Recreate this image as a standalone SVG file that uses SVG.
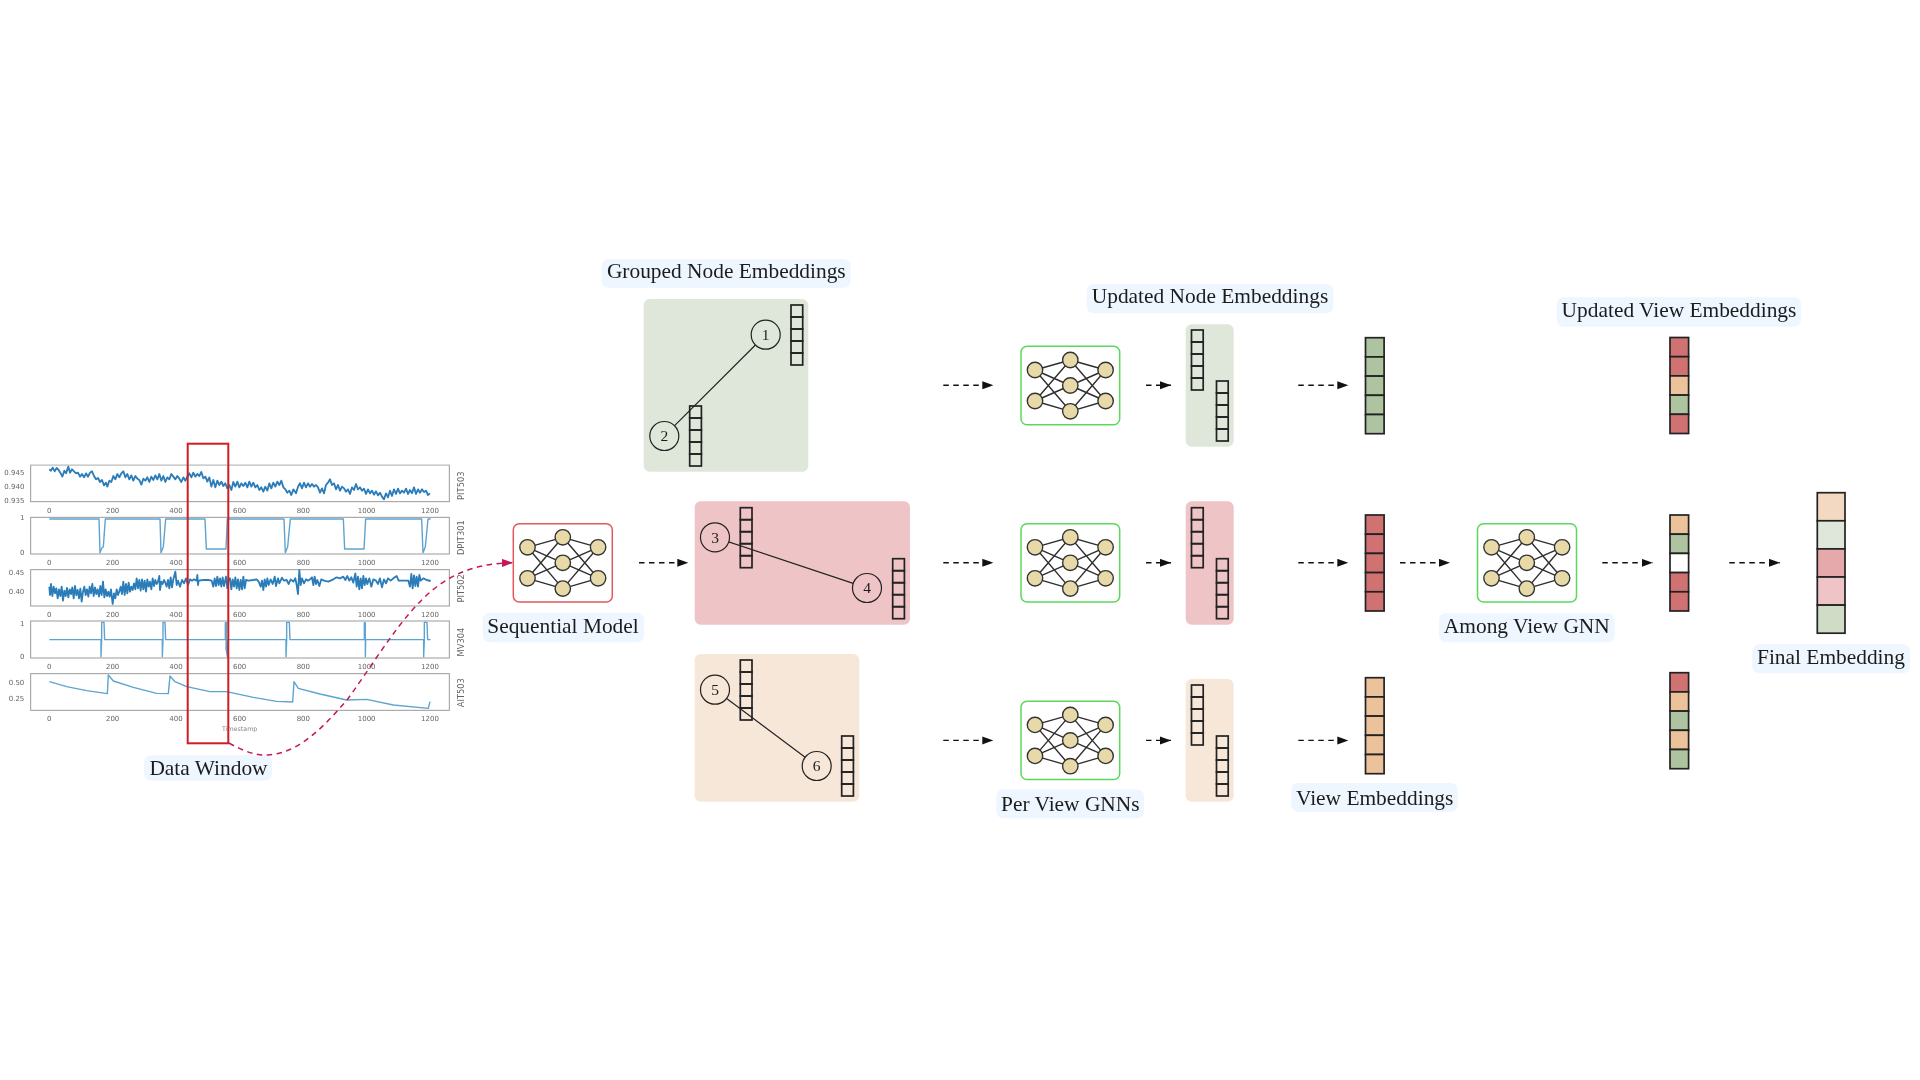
<svg xmlns="http://www.w3.org/2000/svg" xmlns:xlink="http://www.w3.org/1999/xlink" width="1920" height="1080" viewBox="0 0 1920 1080">
<style>
text{font-family:"Liberation Serif","Times New Roman",serif;fill:#1c1c1c}
.lab{font-size:21.4px;text-anchor:middle}
.pill{fill:#eef6ff}
.num{font-size:15.5px;text-anchor:middle}
.circ{fill:none;stroke:#222;stroke-width:1.2}
.edge{stroke:#222;stroke-width:1.2;fill:none}
.arr{stroke:#111;stroke-width:1.4;stroke-dasharray:5.5 4.5;fill:none;marker-end:url(#ah)}
.cur{stroke:#c5185a;stroke-width:1.5;stroke-dasharray:5.5 4.5;fill:none;marker-end:url(#ahr)}
.nnb{fill:#fff;stroke-width:1.5}
.g{stroke:#5cd85c}
.rr{stroke:#e0595c}
.pg{fill:#dfe7db}.pr{fill:#efc4c6}.po{fill:#f7e7d9}
.vc{fill:none;stroke:#222;stroke-width:1.7}
.cc{stroke:#222;stroke-width:1.7}
.cg{fill:#aec3a0}.cr{fill:#d07272}.co{fill:#ebc29a}.cw{fill:#fff}
.f1{fill:#f4d9c2}.f2{fill:#dfe7db}.f3{fill:#e5a9ab}.f4{fill:#efc4c6}.f5{fill:#d1dcc7}
.nl{stroke:#2e2e2e;stroke-width:1.4;fill:none}
.nc{fill:#e8d9a8;stroke:#333;stroke-width:1.4}
.spine{fill:none;stroke:#9a9a9a;stroke-width:3}
.tk text,text.tk{font-family:"DejaVu Sans",sans-serif;font-size:21px;fill:#666}
.tx text{text-anchor:middle}
.ty text{text-anchor:end}
.yl{font-family:"DejaVu Sans",sans-serif;font-size:25px;fill:#666;text-anchor:middle}
.s1{fill:none;stroke:#2b7db8;stroke-width:5.5;stroke-linejoin:round}
.s2{fill:none;stroke:#5fa3cf;stroke-width:4.2;stroke-linejoin:round}
</style>
<defs>
<filter id="soft" x="-2%" y="-2%" width="104%" height="104%"><feGaussianBlur stdDeviation="0.5"/></filter>
<marker id="ah" markerUnits="userSpaceOnUse" markerWidth="12" markerHeight="10" refX="11" refY="4" orient="auto"><path d="M0,0L11,4L0,8Z" fill="#111"/></marker>
<marker id="ahr" markerUnits="userSpaceOnUse" markerWidth="12" markerHeight="10" refX="11" refY="4" orient="auto"><path d="M0,0L11,4L0,8Z" fill="#c5185a"/></marker>
<g id="net">
<path class="nl" d="M-35.3,-15.5L0,-25.5M-35.3,-15.5L0,0M-35.3,-15.5L0,25.8M-35.3,15.5L0,-25.5M-35.3,15.5L0,0M-35.3,15.5L0,25.8M35.3,-15.5L0,-25.5M35.3,-15.5L0,0M35.3,-15.5L0,25.8M35.3,15.5L0,-25.5M35.3,15.5L0,0M35.3,15.5L0,25.8"/>
<circle class="nc" cx="-35.3" cy="-15.5" r="7.7"/><circle class="nc" cx="-35.3" cy="15.5" r="7.7"/>
<circle class="nc" cx="0" cy="-25.5" r="7.7"/><circle class="nc" cx="0" cy="0" r="7.7"/><circle class="nc" cx="0" cy="25.8" r="7.7"/>
<circle class="nc" cx="35.3" cy="-15.5" r="7.7"/><circle class="nc" cx="35.3" cy="15.5" r="7.7"/>
</g>
<g id="vec">
<rect class="vc" width="11.7" height="12"/><rect class="vc" y="12" width="11.7" height="12"/><rect class="vc" y="24" width="11.7" height="12"/><rect class="vc" y="36" width="11.7" height="12"/><rect class="vc" y="48" width="11.7" height="12"/>
</g>
<rect id="cell" class="cc" width="18.6" height="19.2"/>
<rect id="fcell" class="cc" width="27.7" height="28.1"/>
</defs>

<g id="data-window-plot" transform="translate(0,430) scale(0.33333)">
<g filter="url(#soft)">
<rect class="spine" x="92" y="105" width="1256" height="110"/>
<rect class="spine" x="92" y="262" width="1256" height="110"/>
<rect class="spine" x="92" y="419" width="1256" height="109"/>
<rect class="spine" x="92" y="573" width="1256" height="111"/>
<rect class="spine" x="92" y="731" width="1256" height="110"/>
<polyline class="s1" points="148,118 153,122 158,113 164,124 170,114 176,120 181,128 187,140 193,122 198,130 205,110 210,128 216,118 222,124 228,130 234,128 240,140 246,132 252,142 258,130 264,140 270,128 276,124 282,138 288,148 294,144 300,156 306,150 312,166 318,158 322,170 328,152 334,156 340,138 346,148 352,132 358,142 364,130 370,124 376,142 382,132 388,148 394,136 400,152 406,138 412,146 418,150 424,164 430,146 436,152 442,142 448,156 454,140 460,150 466,136 472,148 478,132 484,152 490,138 496,156 502,142 508,148 514,132 520,140 526,148 532,138 538,146 544,156 550,142 556,152 562,140 568,130 574,142 580,128 586,140 592,132 598,138 604,126 610,145 616,140 622,155 628,142 634,170 640,150 646,172 652,152 658,165 664,155 670,168 676,160 682,175 688,165 694,180 700,156 706,170 712,155 718,172 724,160 730,168 736,158 742,172 748,155 754,170 760,158 766,172 772,165 778,180 784,172 790,185 796,170 802,182 808,160 814,175 820,158 826,170 832,155 838,165 844,152 850,172 856,178 862,188 868,182 874,195 880,178 888,190 894,170 900,160 906,175 912,158 918,172 924,160 930,170 936,162 942,170 948,165 954,172 960,188 966,175 972,190 978,165 984,158 990,148 996,165 1002,160 1008,178 1014,165 1020,182 1026,170 1032,175 1038,185 1044,178 1050,192 1056,172 1062,180 1068,162 1074,178 1080,172 1086,182 1092,176 1098,192 1104,178 1110,190 1116,182 1122,194 1128,184 1134,196 1140,188 1146,200 1152,208 1158,190 1164,202 1170,182 1176,198 1182,178 1188,192 1194,176 1200,190 1206,182 1212,188 1218,176 1224,192 1230,180 1236,190 1242,172 1248,192 1254,178 1260,188 1266,178 1272,186 1278,182 1284,195 1290,190"/>
<polyline class="s2" points="148,267 297,267 300,368 305,355 310,350 316,267 480,267 483,368 490,350 497,267 615,267 619,357 678,357 682,267 852,267 856,368 863,350 871,267 1030,267 1034,357 1092,357 1097,267 1265,267 1269,368 1276,350 1284,267 1292,267"/>
<polyline class="s1" points="148,470 150,495 153,462 157,498 161,470 165,490 169,475 173,505 177,478 181,498 185,470 189,512 193,482 197,498 201,474 205,502 209,478 213,492 217,472 221,505 225,468 229,495 233,480 237,505 241,476 245,515 249,485 253,470 257,495 261,478 265,500 269,470 273,490 277,462 281,498 285,472 289,492 293,478 297,500 301,468 305,495 309,455 313,502 317,478 321,498 325,485 329,500 333,478 338,522 342,490 346,505 350,478 354,495 358,484 362,470 366,492 370,455 374,495 378,462 382,490 386,458 390,485 394,470 398,480 402,460 406,478 410,445 414,475 418,450 422,482 426,448 430,478 434,452 438,485 442,448 446,470 450,455 454,478 458,445 462,468 466,450 470,462 474,455 478,438 480,480 484,455 488,462 492,450 496,458 500,470 504,450 508,475 512,442 516,472 520,448 526,425 530,465 534,452 540,470 546,450 552,460 558,445 564,465 570,448 576,452 582,448 590,452 592,435 594,465 596,452 610,450 625,450 635,452 640,470 644,445 648,468 652,440 656,465 660,445 664,470 668,442 672,468 678,440 682,475 686,445 690,445 694,478 698,448 702,470 706,442 710,475 714,448 718,480 722,450 726,478 730,440 734,475 738,450 745,452 760,450 770,448 776,455 782,470 786,452 790,480 794,448 798,470 802,445 806,465 812,448 818,462 824,440 828,468 834,445 838,460 846,443 852,452 860,450 866,462 872,448 880,455 886,445 890,465 894,492 898,420 902,465 906,445 912,460 918,448 924,452 930,448 936,442 940,465 944,440 948,462 952,450 958,468 964,448 972,452 985,455 1000,448 1010,442 1020,445 1030,440 1036,450 1042,438 1048,452 1054,442 1060,458 1066,430 1070,470 1074,440 1078,478 1082,445 1086,475 1090,438 1094,465 1098,445 1102,462 1108,445 1114,470 1120,448 1128,452 1134,462 1140,445 1146,472 1152,448 1158,460 1164,445 1172,452 1180,445 1190,438 1196,452 1204,452 1225,452 1230,470 1234,432 1238,475 1242,436 1246,468 1250,440 1254,470 1258,435 1262,452 1270,445 1280,450 1292,453"/>
<polyline class="s2" points="148,629 303,629 303,680 305,629 305,577 312,577 314,629 487,629 487,680 489,629 489,577 495,577 497,629 676,629 676,578 680,578 678,655 682,680 682,629 858,629 858,680 860,629 860,577 868,577 870,629 1093,629 1093,578 1096,578 1096,680 1097,629 1271,629 1271,680 1273,629 1273,577 1281,577 1283,629 1292,629"/>
<polyline class="s2" points="148,755 200,770 260,782 322,791 325,735 340,753 400,772 470,790 505,791 510,738 525,755 560,770 630,785 680,785 760,802 830,814 878,816 882,755 895,775 960,792 1040,810 1100,808 1180,825 1285,835 1290,815"/>
<g class="tk tx">
<text x="148" y="248">0</text><text x="338" y="248">200</text><text x="528" y="248">400</text><text x="719" y="248">600</text><text x="910" y="248">800</text><text x="1100" y="248">1000</text><text x="1290" y="248">1200</text>
<text x="148" y="404">0</text><text x="338" y="404">200</text><text x="528" y="404">400</text><text x="719" y="404">600</text><text x="910" y="404">800</text><text x="1100" y="404">1000</text><text x="1290" y="404">1200</text>
<text x="148" y="562">0</text><text x="338" y="562">200</text><text x="528" y="562">400</text><text x="719" y="562">600</text><text x="910" y="562">800</text><text x="1100" y="562">1000</text><text x="1290" y="562">1200</text>
<text x="148" y="718">0</text><text x="338" y="718">200</text><text x="528" y="718">400</text><text x="719" y="718">600</text><text x="910" y="718">800</text><text x="1100" y="718">1000</text><text x="1290" y="718">1200</text>
<text x="148" y="873">0</text><text x="338" y="873">200</text><text x="528" y="873">400</text><text x="719" y="873">600</text><text x="910" y="873">800</text><text x="1100" y="873">1000</text><text x="1290" y="873">1200</text>
<text x="719" y="904" style="font-size:19px;fill:#888">Timestamp</text>
</g>
<g class="tk ty">
<text x="73" y="135">0.945</text><text x="73" y="176">0.940</text><text x="73" y="219">0.935</text>
<text x="73" y="269">1</text><text x="73" y="375">0</text>
<text x="73" y="435">0.45</text><text x="73" y="492">0.40</text>
<text x="73" y="587">1</text><text x="73" y="688">0</text>
<text x="73" y="765">0.50</text><text x="73" y="812">0.25</text>
</g>
<text class="yl" transform="translate(1392,167) rotate(-90)">PIT503</text>
<text class="yl" transform="translate(1392,323) rotate(-90)">DPIT301</text>
<text class="yl" transform="translate(1392,475) rotate(-90)">PIT502</text>
<text class="yl" transform="translate(1392,636) rotate(-90)">MV304</text>
<text class="yl" transform="translate(1392,788) rotate(-90)">AIT503</text>
</g>
</g>

<g id="data-window">
<rect x="187.7" y="443.7" width="40.6" height="299.6" fill="none" stroke="#cc1f24" stroke-width="2"/>
<rect class="pill" x="144" y="755.3" width="128" height="25.5" rx="7"/>
<text class="lab" x="208.5" y="774.5">Data Window</text>
</g>

<g id="sequential-model">
<rect class="nnb rr" x="513.3" y="523.7" width="99" height="78.3" rx="6"/>
<use xlink:href="#net" href="#net" x="562.8" y="562.8"/>
<rect class="pill" x="482.7" y="612.7" width="161.3" height="29.6" rx="7"/>
<text class="lab" x="563" y="632.5">Sequential Model</text>
</g>

<g id="grouped-green">
<rect class="pill" x="601.7" y="259" width="249" height="28.7" rx="7"/>
<text class="lab" x="726.3" y="278">Grouped Node Embeddings</text>
<rect class="pg" x="643.7" y="299" width="164.6" height="172.7" rx="6"/>
<use xlink:href="#vec" href="#vec" x="791" y="305"/>
<use xlink:href="#vec" href="#vec" x="689.7" y="406"/>
</g>
<g id="node-1"><circle class="circ" cx="765.7" cy="334.7" r="14.5"/><text class="num" x="765.7" y="340">1</text></g>
<g id="node-2"><circle class="circ" cx="664.3" cy="436" r="14.5"/><text class="num" x="664.3" y="441.3">2</text></g>

<g id="grouped-red">
<rect class="pr" x="694.7" y="501.3" width="215.3" height="123.4" rx="6"/>
<use xlink:href="#vec" href="#vec" x="740.3" y="507.7"/>
<use xlink:href="#vec" href="#vec" x="892.7" y="558.7"/>
</g>
<g id="node-3"><circle class="circ" cx="715" cy="537.3" r="14.5"/><text class="num" x="715" y="542.6">3</text></g>
<g id="node-4"><circle class="circ" cx="867" cy="588" r="14.5"/><text class="num" x="867" y="593.3">4</text></g>

<g id="grouped-orange">
<rect class="po" x="694.7" y="654" width="164.6" height="147.7" rx="6"/>
<use xlink:href="#vec" href="#vec" x="740.3" y="660"/>
<use xlink:href="#vec" href="#vec" x="841.7" y="736"/>
</g>
<g id="node-5"><circle class="circ" cx="715" cy="689.7" r="14.5"/><text class="num" x="715" y="695">5</text></g>
<g id="node-6"><circle class="circ" cx="816.7" cy="766" r="14.5"/><text class="num" x="816.7" y="771.3">6</text></g>

<g id="gnn-1"><rect class="nnb g" x="1021" y="346.3" width="98.7" height="78.4" rx="6"/><use xlink:href="#net" href="#net" x="1070.3" y="385.5"/></g>
<g id="gnn-2"><rect class="nnb g" x="1021" y="523.7" width="98.7" height="78.3" rx="6"/><use xlink:href="#net" href="#net" x="1070.3" y="562.8"/></g>
<g id="gnn-3"><rect class="nnb g" x="1021" y="701.2" width="98.7" height="78.4" rx="6"/><use xlink:href="#net" href="#net" x="1070.3" y="740.4"/>
<rect class="pill" x="996.4" y="789.3" width="147.6" height="29" rx="7"/>
<text class="lab" x="1070.3" y="811">Per View GNNs</text></g>

<g id="updated-1">
<rect class="pill" x="1086.7" y="284" width="246.6" height="29.3" rx="7"/>
<text class="lab" x="1210" y="303">Updated Node Embeddings</text>
<rect class="pg" x="1185.7" y="324.3" width="48" height="122.4" rx="6"/>
<use xlink:href="#vec" href="#vec" x="1191.5" y="330"/><use xlink:href="#vec" href="#vec" x="1216.5" y="381"/>
</g>
<g id="updated-2">
<rect class="pr" x="1185.7" y="501.3" width="48" height="123.4" rx="6"/>
<use xlink:href="#vec" href="#vec" x="1191.5" y="507.7"/><use xlink:href="#vec" href="#vec" x="1216.5" y="558.7"/>
</g>
<g id="updated-3">
<rect class="po" x="1185.7" y="679" width="48" height="122.7" rx="6"/>
<use xlink:href="#vec" href="#vec" x="1191.5" y="685"/><use xlink:href="#vec" href="#vec" x="1216.5" y="736"/>
</g>

<g id="view-1" transform="translate(1365.5,337.7)"><use xlink:href="#cell" href="#cell" class="cg"/><use xlink:href="#cell" href="#cell" y="19.2" class="cg"/><use xlink:href="#cell" href="#cell" y="38.4" class="cg"/><use xlink:href="#cell" href="#cell" y="57.6" class="cg"/><use xlink:href="#cell" href="#cell" y="76.8" class="cg"/></g>
<g id="view-2" transform="translate(1365.5,515)"><use xlink:href="#cell" href="#cell" class="cr"/><use xlink:href="#cell" href="#cell" y="19.2" class="cr"/><use xlink:href="#cell" href="#cell" y="38.4" class="cr"/><use xlink:href="#cell" href="#cell" y="57.6" class="cr"/><use xlink:href="#cell" href="#cell" y="76.8" class="cr"/></g>
<g id="view-3"><g transform="translate(1365.5,677.7)"><use xlink:href="#cell" href="#cell" class="co"/><use xlink:href="#cell" href="#cell" y="19.2" class="co"/><use xlink:href="#cell" href="#cell" y="38.4" class="co"/><use xlink:href="#cell" href="#cell" y="57.6" class="co"/><use xlink:href="#cell" href="#cell" y="76.8" class="co"/></g>
<rect class="pill" x="1291.4" y="783" width="166.5" height="29" rx="7"/>
<text class="lab" x="1374.7" y="804.5">View Embeddings</text></g>

<g id="among-view-gnn"><rect class="nnb g" x="1477.5" y="523.7" width="99" height="78.3" rx="6"/><use xlink:href="#net" href="#net" x="1526.8" y="562.8"/>
<rect class="pill" x="1439" y="613.3" width="175.7" height="29" rx="7"/>
<text class="lab" x="1526.8" y="632.5">Among View GNN</text></g>

<g id="updated-view-1">
<rect class="pill" x="1556.7" y="297.3" width="244.3" height="29.4" rx="7"/>
<text class="lab" x="1679" y="316.7">Updated View Embeddings</text>
<g transform="translate(1670,337.5)"><use xlink:href="#cell" href="#cell" class="cr"/><use xlink:href="#cell" href="#cell" y="19.2" class="cr"/><use xlink:href="#cell" href="#cell" y="38.4" class="co"/><use xlink:href="#cell" href="#cell" y="57.6" class="cg"/><use xlink:href="#cell" href="#cell" y="76.8" class="cr"/></g>
</g>
<g id="updated-view-2" transform="translate(1670,515)"><use xlink:href="#cell" href="#cell" class="co"/><use xlink:href="#cell" href="#cell" y="19.2" class="cg"/><use xlink:href="#cell" href="#cell" y="38.4" class="cw"/><use xlink:href="#cell" href="#cell" y="57.6" class="cr"/><use xlink:href="#cell" href="#cell" y="76.8" class="cr"/></g>
<g id="updated-view-3" transform="translate(1670,672.7)"><use xlink:href="#cell" href="#cell" class="cr"/><use xlink:href="#cell" href="#cell" y="19.2" class="co"/><use xlink:href="#cell" href="#cell" y="38.4" class="cg"/><use xlink:href="#cell" href="#cell" y="57.6" class="co"/><use xlink:href="#cell" href="#cell" y="76.8" class="cg"/></g>

<g id="final-embedding">
<g transform="translate(1817.3,492.7)"><use xlink:href="#fcell" href="#fcell" class="f1"/><use xlink:href="#fcell" href="#fcell" y="28.1" class="f2"/><use xlink:href="#fcell" href="#fcell" y="56.2" class="f3"/><use xlink:href="#fcell" href="#fcell" y="84.3" class="f4"/><use xlink:href="#fcell" href="#fcell" y="112.4" class="f5"/></g>
<rect class="pill" x="1752.3" y="644.3" width="157.7" height="29" rx="7"/>
<text class="lab" x="1831" y="663.5">Final Embedding</text>
</g>

<g id="connectors">
<path class="edge" d="M674.6,425.7L755.4,345"/>
<path class="edge" d="M728.8,541.9L853.2,583.4"/>
<path class="edge" d="M726.6,698.4L805.1,757.3"/>
<path class="cur" d="M229,743C245,752 258,756 268,755C300,753 325,725 347,700C380,655 410,600 450,578C470,567 490,563 513,562.8"/>
<path class="arr" d="M639,562.8H688.3"/>
<path class="arr" d="M943.3,385.3H993.3"/>
<path class="arr" d="M943.3,562.8H993.3"/>
<path class="arr" d="M943.3,740.4H993.3"/>
<path class="arr" d="M1146,385.3H1171"/>
<path class="arr" d="M1146,562.8H1171"/>
<path class="arr" d="M1146,740.4H1171"/>
<path class="arr" d="M1298.3,385.3H1348.3"/>
<path class="arr" d="M1298.3,562.8H1348.3"/>
<path class="arr" d="M1298.3,740.4H1348.3"/>
<path class="arr" d="M1400,562.8H1450"/>
<path class="arr" d="M1602.3,562.8H1652.7"/>
<path class="arr" d="M1729.3,562.8H1780"/>
</g>
</svg>
